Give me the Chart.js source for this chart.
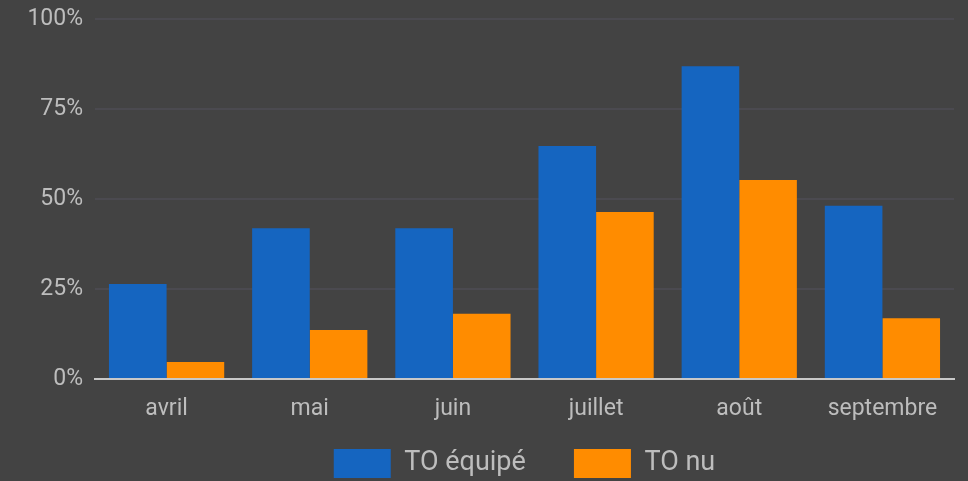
<!DOCTYPE html>
<html>
<head>
<meta charset="utf-8">
<script src="https://cdn.jsdelivr.net/npm/chart.js@4"></script>
<style>
  html, body { margin: 0; padding: 0; background: #434343; }
  #wrap { width: 968px; height: 481px; }
</style>
</head>
<body>
<div id="wrap"><canvas id="chart"></canvas></div>
<script>
const months = ['avril', 'mai', 'juin', 'juillet', 'août', 'septembre'];
const toEquipe = [26.4, 41.9, 41.9, 64.7, 86.9, 48.1];
const toNu = [4.7, 13.6, 18.1, 46.4, 55.3, 16.9];
const yTicks = [0, 25, 50, 75, 100];

const textColor = '#bdbdbd';

new Chart(document.getElementById('chart'), {
    type: 'bar',
    data: {
        labels: months,
        datasets: [
            { label: 'TO équipé', data: toEquipe, backgroundColor: '#1565c0' },
            { label: 'TO nu', data: toNu, backgroundColor: '#ff8c00' },
        ],
    },
    options: {
        responsive: true,
        maintainAspectRatio: false,
        animation: false,
        layout: { padding: { top: 19, right: 14, left: 0, bottom: -7 } },
        datasets: { bar: { categoryPercentage: 0.805, barPercentage: 1.0 } },
        scales: {
            x: {
                afterFit: (scale) => { scale.height = 42; scale.paddingBottom = 0; },
                grid: { display: false, drawTicks: false },
                border: { color: '#c8c8c8', width: 2 },
                ticks: { color: textColor, font: { family: 'Roboto', size: 23 }, padding: 16 },
            },
            y: {
                min: 0,
                max: 100,
                afterBuildTicks: (scale) => { scale.ticks = yTicks.map(v => ({ value: v })); },
                afterFit: (scale) => { scale.width = 95; scale.paddingTop = 0; scale.paddingBottom = 0; },
                grid: {
                    color: (ctx) => ctx.tick && ctx.tick.value === 0 ? 'rgba(0,0,0,0)' : '#4b4a50',
                    lineWidth: 2,
                    drawTicks: false,
                },
                border: { display: false },
                ticks: {
                    color: textColor,
                    font: { family: 'Roboto', size: 23 },
                    padding: 12,
                    callback: (v) => v + '%',
                },
            },
        },
        plugins: {
            legend: {
                position: 'bottom',
                fullSize: false,
                labels: {
                    color: textColor,
                    font: { family: 'Roboto', size: 27 },
                    boxWidth: 57,
                    boxHeight: 29,
                    padding: 28,
                    // extra gap after the first item, like the original legend
                    generateLabels: (chart) => {
                        const items = Chart.defaults.plugins.legend.labels.generateLabels(chart);
                        items.forEach((it, i) => { if (i < items.length - 1) it.text += '   '; });
                        return items;
                    },
                },
            },
            tooltip: { enabled: false },
        },
    },
});
</script>
</body>
</html>
